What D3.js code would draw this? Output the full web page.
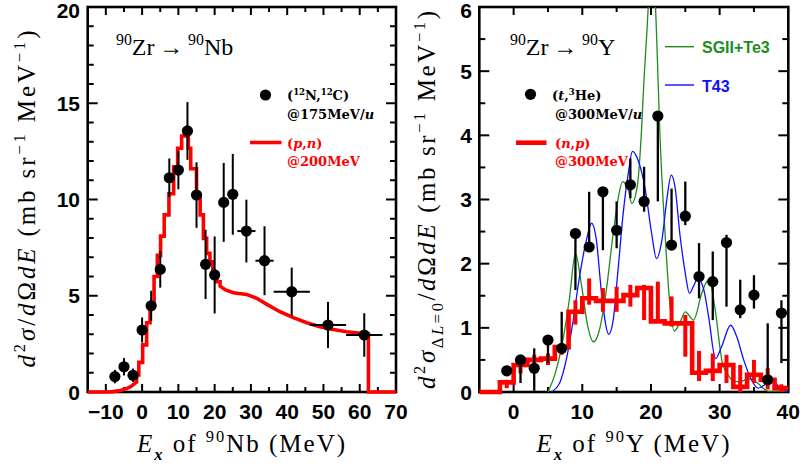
<!DOCTYPE html>
<html><head><meta charset="utf-8">
<script src="https://cdn.jsdelivr.net/npm/d3@7"></script>
<style>body{margin:0;background:#fff;} svg{display:block;}</style>
</head><body>
<svg id="c" width="802" height="464"></svg>
<script>
// ================= DATA =================
// Left panel: 90Zr -> 90Nb, (12N,12C) @175 MeV/u
const nbE    = [-7.5,-5,-2.5,0,2.5,5,7.5,10,12.5,15,17.5,20,22.5,25,28.75,33.75,41.25,51.25,61.25];
const nbXerr = [1.25,1.25,1.25,1.25,1.25,1.25,1.25,1.25,1.25,1.25,1.25,1.25,1.25,1.25,2.5,2.5,5,5,5];
const nbVal  = [0.8,1.31,0.87,3.22,4.48,6.37,11.13,11.53,13.56,10.23,6.63,6.08,9.85,10.27,8.36,6.82,5.21,3.48,2.96];
const nbErr  = [0.35,0.45,0.35,0.65,0.78,0.95,1.0,1.0,1.5,1.7,1.8,2.0,2.05,2.1,1.63,1.79,1.25,1.2,1.13];
// (p,n) @200 MeV : smooth low tail, histogram part, smooth high part
const pnLowE  = [-15,-10,-8,-6,-5,-4,-3,-2,-1.5];
const pnLowV  = [0,0,0.02,0.08,0.13,0.2,0.3,0.45,0.52];
const pnEdges = [-1.5,-0.9,0.15,1.25,2.2,3.3,4.2,5.1,6.1,7.4,8.7,9.8,10.9,12.75,13.4,15.0,16.0,16.9,17.8,18.7,19.5,20.6,21.5];
const pnStep  = [0.88,1.54,2.45,3.6,4.5,6.0,7.1,8.1,9.2,10.3,11.7,12.66,13.3,12.66,11.6,10.23,9.2,7.98,7.2,6.77,6.2,5.73];
const pnHighE = [21.5,23,25.2,28.8,31.6,34.4,38,41.7,45.4,49,52.7,56.4,60.1,62.4,62.4,70];
const pnHighV = [5.5,5.3,5.16,5.07,4.87,4.55,4.17,3.86,3.6,3.39,3.25,3.13,3.05,3.02,0,0];

// Right panel: 90Zr -> 90Y, (t,3He) @300 MeV/u
const yE   = [-1,1,3,5,7,9,11,13,15,17,19,21,23,25,27,29,31,33,35,37,39];
const yVal = [0.33,0.5,0.37,0.81,0.68,2.47,2.26,3.12,2.52,3.23,2.97,4.30,2.29,2.74,1.80,1.72,2.33,1.28,1.51,0.19,1.23];
const yLo  = [0.3,0.14,0.02,0.45,0.6,1.59,2.26,2.21,2.24,3.02,2.81,2.97,2.29,2.6,1.46,1.12,1.33,1.15,1.30,0.19,0.45];
const yHi  = [0.36,0.5,0.68,0.85,1.25,2.47,3.12,3.12,2.97,3.64,3.51,4.30,3.17,3.28,2.32,2.19,2.45,1.75,1.82,1.07,1.43];
// (n,p) @300 MeV histogram (2 MeV bins starting at npStart)
const npStart = [-2,0,2,4,6,8,10,12,14,16,18,20,22,24,26,28,30,32,34,36,38];
const npVal   = [0.15,0.42,0.5,0.52,0.70,1.25,1.46,1.42,1.42,1.51,1.62,1.10,1.07,1.07,0.30,0.33,0.42,0.08,0.27,0.19,0.06];
const npLo    = [0.06,0.29,0.39,0.42,0.58,1.05,1.36,1.25,1.25,1.33,1.12,1.10,1.02,0.55,0.17,0.17,0.14,0.0,0.14,0.04,0.0];
const npHi    = [0.19,0.47,0.58,0.6,0.76,1.43,1.77,1.62,1.64,1.67,1.67,1.72,1.49,1.2,0.64,0.6,0.58,0.42,0.5,0.37,0.12];
// SGII+Te3 (green)
const gE = [5.0,6.06,7.0,8.1,9.0,9.85,10.8,11.66,12.5,13.5,14.5,15.2,15.85,16.7,17.2,18.0,18.6,19.0,19.4,19.7,20.15,20.6,20.9,21.3,22.05,22.7,23.4,24.2,25.0,26.2,27.4,28.4,29.4,30.1,30.4,31.1,32.0,33.0,34.2,35.5,36.7,37.4,40];
const gV = [0,0.29,0.71,1.43,2.16,1.69,1.02,0.78,0.97,1.59,2.47,3.0,3.28,3.15,2.94,3.2,4.03,4.9,5.6,6.2,7.0,6.2,5.3,4.03,2.47,1.43,0.95,1.08,1.25,1.12,1.54,1.75,1.25,0.65,0.45,0.29,0.17,0.16,0.21,0.14,0.03,0,0];
// T43 (blue)
const bE = [5.5,6.7,7.66,8.6,9.6,10.6,11.35,12.05,12.8,13.85,14.5,15.2,15.95,16.7,17.3,18.1,19.1,20.1,20.8,21.6,22.3,22.95,23.5,24.2,25.0,25.6,26.2,26.8,27.7,28.4,29.4,30.3,31.6,32.5,33.5,34.5,35.6,36.9,37.6,38.4,39.4,40];
const bV = [0,0.14,0.5,1.07,1.8,2.37,2.63,2.37,1.54,0.9,1.12,1.9,2.78,3.41,3.75,3.62,3.2,2.47,2.08,2.37,2.99,3.38,3.2,2.47,1.85,1.54,1.65,1.77,1.59,1.17,0.52,0.71,1.04,0.86,0.5,0.22,0.06,0.14,0.19,0.11,0.03,0];

// tick labels
const leftXTicks  = [-10,0,10,20,30,40,50,60,70];
const leftYTicks  = [0,5,10,15,20];
const rightXTicks = [0,10,20,30,40];
const rightYTicks = [0,1,2,3,4,5,6];

// ================= DRAW =================
const svg = d3.select("#c");
const SERIF = "'Liberation Serif','Times New Roman',serif";
const SANS = "'Liberation Sans',Arial,sans-serif";
const LEG = "'DejaVu Serif',serif";
const RED = "#ff0000", GREEN = "#1e8c1e", BLUE = "#1010ff";

const xL = d3.scaleLinear([-15,70],[87.7,396]);
const yL = d3.scaleLinear([0,20],[392,7]);
const xR = d3.scaleLinear([-5,40],[479.3,788.3]);
const yR = d3.scaleLinear([0,6],[392,7]);

function rich(t, parts, size) {
  let shift = 0;
  parts.forEach(p => {
    const target = p.sup ? -0.42*size : (p.sub ? 0.3*size : 0);
    const ts = t.append("tspan").text(p.t);
    if (target !== shift) ts.attr("dy", target - shift);
    shift = target;
    if (p.sup || p.sub) ts.attr("font-size", size*0.66);
    if (p.i) ts.attr("font-style","italic");
    if (p.b) ts.attr("font-weight","bold");
  });
}

function frame(x, y, xMaj, xMin, yMaj, yMin, xLab, yLab, yLabX) {
  const g = svg.append("g");
  const [x0,x1] = x.range(), [y0,y1] = y.range(); // y0 bottom, y1 top
  const tk = g.append("g").attr("stroke","#000").attr("stroke-width",2);
  xMaj.forEach(v => { const px=x(v);
    tk.append("line").attr("x1",px).attr("x2",px).attr("y1",y0).attr("y2",y0-8);
    tk.append("line").attr("x1",px).attr("x2",px).attr("y1",y1).attr("y2",y1+8); });
  xMin.forEach(v => { const px=x(v);
    tk.append("line").attr("x1",px).attr("x2",px).attr("y1",y0).attr("y2",y0-5);
    tk.append("line").attr("x1",px).attr("x2",px).attr("y1",y1).attr("y2",y1+5); });
  yMaj.forEach(v => { const py=y(v);
    tk.append("line").attr("x1",x0).attr("x2",x0+10).attr("y1",py).attr("y2",py);
    tk.append("line").attr("x1",x1).attr("x2",x1-10).attr("y1",py).attr("y2",py); });
  yMin.forEach(v => { const py=y(v);
    tk.append("line").attr("x1",x0).attr("x2",x0+6).attr("y1",py).attr("y2",py);
    tk.append("line").attr("x1",x1).attr("x2",x1-6).attr("y1",py).attr("y2",py); });
  g.append("rect").attr("x",x0).attr("y",y1).attr("width",x1-x0).attr("height",y0-y1)
    .attr("fill","none").attr("stroke","#000").attr("stroke-width",2.6);
  const fmt = d3.format("d");
  g.selectAll("text.xl").data(xLab).enter().append("text")
    .attr("x", d=>x(d)).attr("y", 419).attr("text-anchor","middle")
    .attr("font-family",SANS).attr("font-weight","bold").attr("font-size",21).text(d=>fmt(d));
  g.selectAll("text.yl").data(yLab).enter().append("text")
    .attr("x", yLabX).attr("y", d=>Math.max(y(d), 10.5)).attr("dy","0.36em").attr("text-anchor","end")
    .attr("font-family",SANS).attr("font-weight","bold").attr("font-size",21).text(d=>fmt(d));
}

// ---------- LEFT PANEL ----------
frame(xL, yL, [-10,0,10,20,30,40,50,60], [-5,5,15,25,35,45,55,65],
      [5,10,15], d3.range(1,20).filter(v=>v%5), leftXTicks, leftYTicks, 80);

// red (p,n) line
const pnPts = pnLowE.map((e,i)=>[e,pnLowV[i]]);
pnStep.forEach((v,i)=>{ pnPts.push([pnEdges[i],v]); pnPts.push([pnEdges[i+1],v]); });
pnHighE.forEach((e,i)=>pnPts.push([e,pnHighV[i]]));
svg.append("path").attr("d", d3.line().x(d=>xL(d[0])).y(d=>yL(d[1]))(pnPts))
  .attr("fill","none").attr("stroke",RED).attr("stroke-width",3.6).attr("stroke-linejoin","miter");

// data points left
const gL = svg.append("g").attr("stroke","#000").attr("stroke-width",2);
nbE.forEach((e,i)=>{
  gL.append("line").attr("x1",xL(e)).attr("x2",xL(e)).attr("y1",yL(nbVal[i]-nbErr[i])).attr("y2",yL(nbVal[i]+nbErr[i]));
  gL.append("line").attr("x1",xL(e-nbXerr[i])).attr("x2",xL(e+nbXerr[i])).attr("y1",yL(nbVal[i])).attr("y2",yL(nbVal[i]));
});
svg.append("g").selectAll("circle").data(nbE).enter().append("circle")
  .attr("cx",d=>xL(d)).attr("cy",(d,i)=>yL(nbVal[i])).attr("r",5.6).attr("fill","#000");

// title left
const tL = svg.append("text").attr("x",116).attr("y",55).attr("font-family",SERIF).attr("font-size",24);
rich(tL,[{t:"90",sup:1},{t:"Zr\u2009\u2192\u2009"},{t:"90",sup:1},{t:"Nb"}],24);

// legend left
svg.append("circle").attr("cx",265.5).attr("cy",95).attr("r",5.6).attr("fill","#000");
const lg1 = svg.append("text").attr("x",287).attr("y",100).attr("font-family",LEG).attr("font-weight","bold").attr("font-size",13);
rich(lg1,[{t:"("},{t:"12",sup:1},{t:"N,"},{t:"12",sup:1},{t:"C)"}],13);
const lg2 = svg.append("text").attr("x",287).attr("y",119).attr("font-family",LEG).attr("font-weight","bold").attr("font-size",13);
rich(lg2,[{t:"@175MeV/"},{t:"u",i:1}],13);
svg.append("line").attr("x1",250).attr("x2",281.5).attr("y1",142.5).attr("y2",142.5).attr("stroke",RED).attr("stroke-width",3.6);
const lg3 = svg.append("text").attr("x",287).attr("y",148).attr("font-family",LEG).attr("font-weight","bold").attr("font-size",13).attr("fill",RED);
rich(lg3,[{t:"("},{t:"p",i:1},{t:","},{t:"n",i:1},{t:")"}],13);
svg.append("text").attr("x",287).attr("y",166).attr("font-family",LEG).attr("font-weight","bold").attr("font-size",13).attr("fill",RED).text("@200MeV");

// axis titles left
const ylt = svg.append("text").attr("transform","translate(35,199) rotate(-90)").attr("text-anchor","middle")
  .attr("font-family",SERIF).attr("font-size",25).attr("textLength",337).attr("lengthAdjust","spacing");
rich(ylt,[{t:"d",i:1},{t:"2",sup:1},{t:"σ",i:1},{t:"/"},{t:"d",i:1},{t:"Ω"},{t:"d",i:1},{t:"E",i:1},{t:"  (mb sr"},{t:"−1",sup:1},{t:" MeV"},{t:"−1",sup:1},{t:")"}],25);
const xlt = svg.append("text").attr("x",241).attr("y",452).attr("text-anchor","middle")
  .attr("font-family",SERIF).attr("font-size",25).attr("textLength",208).attr("lengthAdjust","spacing");
rich(xlt,[{t:"E",i:1},{t:"x",sub:1,i:1,b:1},{t:"  of  "},{t:"90",sup:1},{t:"Nb  (MeV)"}],25);

// ---------- RIGHT PANEL ----------
frame(xR, yR, [0,10,20,30], [5,15,25,35], [1,2,3,4,5], [0.5,1.5,2.5,3.5,4.5,5.5],
      rightXTicks, rightYTicks, 472);

svg.append("clipPath").attr("id","cr").append("rect").attr("x",479.3).attr("y",7).attr("width",309).attr("height",385);
const gc = svg.append("g").attr("clip-path","url(#cr)");
const curve = d3.line().x(d=>xR(d[0])).y(d=>yR(d[1])).curve(d3.curveMonotoneX);
gc.append("path").attr("d",curve(gE.map((e,i)=>[e,gV[i]]))).attr("fill","none").attr("stroke",GREEN).attr("stroke-width",1.3);
gc.append("path").attr("d",curve(bE.map((e,i)=>[e,bV[i]]))).attr("fill","none").attr("stroke",BLUE).attr("stroke-width",1.3);

// red (n,p) histogram
const npPts = [[-5,0],[npStart[0],0]];
npVal.forEach((v,i)=>{ npPts.push([npStart[i],v]); npPts.push([npStart[i]+2,v]); });
svg.append("path").attr("d", d3.line().x(d=>xR(d[0])).y(d=>yR(d[1]))(npPts))
  .attr("fill","none").attr("stroke",RED).attr("stroke-width",4.6).attr("stroke-linejoin","miter");
const gRb = svg.append("g").attr("stroke",RED).attr("stroke-width",4);
npStart.forEach((s,i)=>{
  gRb.append("line").attr("x1",xR(s+1)).attr("x2",xR(s+1)).attr("y1",yR(npLo[i])).attr("y2",yR(npHi[i]));
});

// data points right
const gRp = svg.append("g").attr("stroke","#000").attr("stroke-width",2.3);
yE.forEach((e,i)=>{
  gRp.append("line").attr("x1",xR(e)).attr("x2",xR(e)).attr("y1",yR(yLo[i])).attr("y2",yR(yHi[i]));
});
svg.append("g").selectAll("circle").data(yE).enter().append("circle")
  .attr("cx",d=>xR(d)).attr("cy",(d,i)=>yR(yVal[i])).attr("r",5.6).attr("fill","#000");

// title right
const tR = svg.append("text").attr("x",510).attr("y",55).attr("font-family",SERIF).attr("font-size",24);
rich(tR,[{t:"90",sup:1},{t:"Zr\u2009\u2192\u2009"},{t:"90",sup:1},{t:"Y"}],24);

// legend right
svg.append("line").attr("x1",665).attr("x2",694).attr("y1",46.7).attr("y2",46.7).attr("stroke",GREEN).attr("stroke-width",1.4);
svg.append("text").attr("x",702).attr("y",53).attr("font-family",SANS).attr("font-weight","bold").attr("font-size",16).attr("fill",GREEN).text("SGII+Te3");
svg.append("line").attr("x1",665).attr("x2",694).attr("y1",85).attr("y2",85).attr("stroke",BLUE).attr("stroke-width",1.4);
svg.append("text").attr("x",702).attr("y",92).attr("font-family",SANS).attr("font-weight","bold").attr("font-size",16).attr("fill",BLUE).text("T43");

svg.append("circle").attr("cx",530.5).attr("cy",94.3).attr("r",5.6).attr("fill","#000");
const rg1 = svg.append("text").attr("x",552).attr("y",100).attr("font-family",LEG).attr("font-weight","bold").attr("font-size",13);
rich(rg1,[{t:"("},{t:"t",i:1},{t:","},{t:"3",sup:1},{t:"He)"}],13);
const rg2 = svg.append("text").attr("x",555).attr("y",119).attr("font-family",LEG).attr("font-weight","bold").attr("font-size",13);
rich(rg2,[{t:"@300MeV/"},{t:"u",i:1}],13);
svg.append("line").attr("x1",516).attr("x2",546.5).attr("y1",142.7).attr("y2",142.7).attr("stroke",RED).attr("stroke-width",4.6);
const rg3 = svg.append("text").attr("x",555).attr("y",148).attr("font-family",LEG).attr("font-weight","bold").attr("font-size",13).attr("fill",RED);
rich(rg3,[{t:"("},{t:"n",i:1},{t:","},{t:"p",i:1},{t:")"}],13);
svg.append("text").attr("x",555).attr("y",166).attr("font-family",LEG).attr("font-weight","bold").attr("font-size",13).attr("fill",RED).text("@300MeV");

// axis titles right
const yrt = svg.append("text").attr("transform","translate(435,200) rotate(-90)").attr("text-anchor","middle")
  .attr("font-family",SERIF).attr("font-size",25).attr("textLength",378).attr("lengthAdjust","spacing");
rich(yrt,[{t:"d",i:1},{t:"2",sup:1},{t:"σ",i:1},{t:"Δ",sub:1},{t:"L",sub:1,i:1},{t:"=0",sub:1},{t:"/"},{t:"d",i:1},{t:"Ω"},{t:"d",i:1},{t:"E",i:1},{t:"  (mb sr"},{t:"−1",sup:1},{t:" MeV"},{t:"−1",sup:1},{t:")"}],25);
const xrt = svg.append("text").attr("x",633).attr("y",452).attr("text-anchor","middle")
  .attr("font-family",SERIF).attr("font-size",25).attr("textLength",193).attr("lengthAdjust","spacing");
rich(xrt,[{t:"E",i:1},{t:"x",sub:1,i:1,b:1},{t:"  of  "},{t:"90",sup:1},{t:"Y  (MeV)"}],25);
</script>
</body></html>
